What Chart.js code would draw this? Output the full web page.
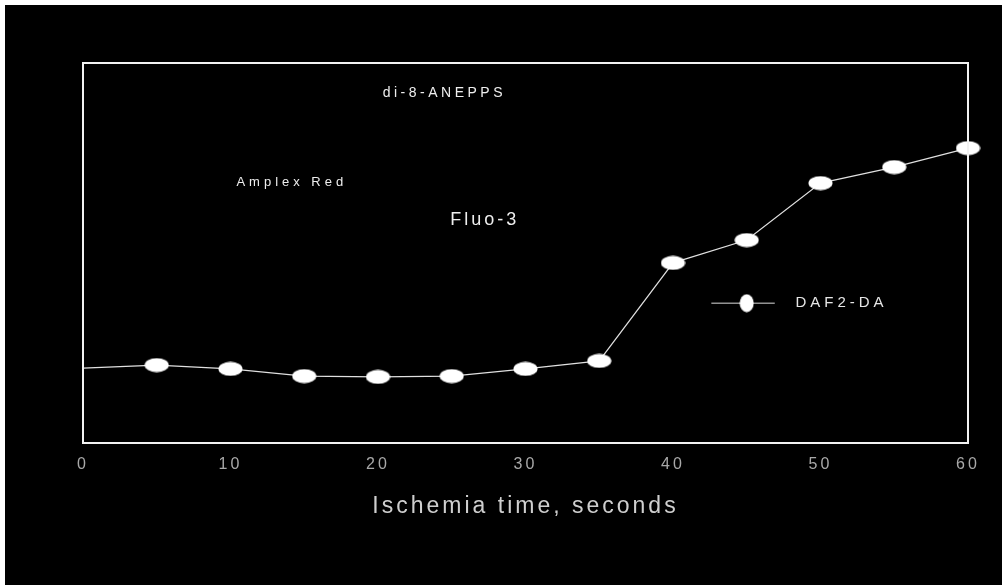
<!DOCTYPE html>
<html>
<head>
<meta charset="utf-8">
<script src="https://cdn.jsdelivr.net/npm/chart.js@4/dist/chart.umd.min.js"></script>
<style>
  html, body { margin: 0; padding: 0; background: #ffffff; }
  #wrap { position: relative; width: 1002px; height: 585px; }
  canvas { display: block; }
</style>
</head>
<body>
<div id="wrap"><canvas id="c" width="1002" height="585"></canvas></div>
<script>
// Ischemia time (s) and DAF2-DA signal (arbitrary units)
const times = [0, 5, 10, 15, 20, 25, 30, 35, 40, 45, 50, 55, 60];
const daf2da = [19.7, 20.5, 19.5, 17.6, 17.4, 17.6, 19.5, 21.6, 47.4, 53.4, 68.4, 72.6, 77.6];
const xTickValues = [0, 10, 20, 30, 40, 50, 60];
const seriesName = 'DAF2-DA';
const xTitle = 'Ischemia time, seconds';
// Probe names written inside the plot, with their anchor in axis units
const probeLabels = ['di-8-ANEPPS', 'Amplex Red', 'Fluo-3'];
const probeX = [24.5, 10.4, 24.9];
const probeY = [92.1, 68.7, 58.7];

// Flattened white ellipse used as the marker
function ellipseMarker(w, h) {
  const c = document.createElement('canvas');
  c.width = w; c.height = h;
  const g = c.getContext('2d');
  g.fillStyle = '#ffffff';
  g.beginPath();
  g.ellipse(w / 2, h / 2, w / 2 - 0.5, h / 2 - 0.5, 0, 0, Math.PI * 2);
  g.fill();
  return c;
}
const pointMarker = ellipseMarker(25, 15);
const legendMarker = ellipseMarker(15, 19);

const FONT = '"Liberation Sans", Arial, sans-serif';

const framePlugin = {
  id: 'frame',
  beforeDraw(chart) {
    const ctx = chart.ctx;
    ctx.save();
    ctx.fillStyle = '#ffffff';
    ctx.fillRect(0, 0, chart.width, chart.height);
    ctx.fillStyle = '#000000';
    ctx.fillRect(5, 5, chart.width - 5, chart.height - 5);
    ctx.restore();
    // spaced lettering for the axis text
    ctx.letterSpacing = '3px';
  },
  beforeDatasetsDraw(chart) {
    chart.ctx.letterSpacing = '0px';
  },
  afterDraw(chart) {
    const ctx = chart.ctx;
    const a = chart.chartArea;
    const xs = chart.scales.x, ys = chart.scales.y;
    ctx.save();
    // plot frame
    ctx.strokeStyle = '#f2f2f2';
    ctx.lineWidth = 2;
    ctx.strokeRect(a.left, a.top, a.right - a.left, a.bottom - a.top);

    // probe labels
    ctx.fillStyle = '#eeeeee';
    ctx.textBaseline = 'middle';
    const sizes = [14, 13, 18];
    const spacing = ['3.5px', '4px', '3px'];
    const align = ['center', 'left', 'left'];
    probeLabels.forEach((t, i) => {
      ctx.font = sizes[i] + 'px ' + FONT;
      ctx.letterSpacing = spacing[i];
      ctx.textAlign = align[i];
      ctx.fillText(t, xs.getPixelForValue(probeX[i]), ys.getPixelForValue(probeY[i]));
    });

    // legend entry
    const ly = ys.getPixelForValue(36.8);
    const lx0 = xs.getPixelForValue(42.6), lx1 = xs.getPixelForValue(46.9);
    const lm = xs.getPixelForValue(45.0);
    ctx.strokeStyle = '#dddddd';
    ctx.lineWidth = 1;
    ctx.beginPath();
    ctx.moveTo(lx0, ly); ctx.lineTo(lx1, ly);
    ctx.stroke();
    ctx.drawImage(legendMarker, lm - legendMarker.width / 2, ly - legendMarker.height / 2);
    ctx.font = '15px ' + FONT;
    ctx.letterSpacing = '4px';
    ctx.textAlign = 'left';
    ctx.fillStyle = '#e6e6e6';
    ctx.fillText(seriesName, xs.getPixelForValue(48.3), ly);
    ctx.restore();
    ctx.letterSpacing = '0px';
  }
};

new Chart(document.getElementById('c'), {
  type: 'line',
  data: {
    labels: times,
    datasets: [{
      label: seriesName,
      data: times.map((t, i) => ({ x: t, y: daf2da[i] })),
      borderColor: '#e0e0e0',
      borderWidth: 1.2,
      pointStyle: pointMarker,
      pointRadius: ctx => (ctx.dataIndex === 0 ? 0 : 8),
      pointHoverRadius: 8,
      tension: 0,
      clip: false
    }]
  },
  options: {
    responsive: false,
    animation: false,
    events: [],
    layout: { padding: { left: 83, right: 34, top: 63, bottom: 65 } },
    plugins: { legend: { display: false }, tooltip: { enabled: false } },
    scales: {
      x: {
        type: 'linear',
        min: 0, max: 60,
        afterBuildTicks: s => { s.ticks = xTickValues.map(v => ({ value: v })); },
        afterFit: s => { s.height = 77; },
        grid: { display: false, drawTicks: false },
        border: { display: false },
        ticks: {
          color: '#a8a8a8',
          padding: 12,
          font: { family: FONT, size: 16 },
          maxRotation: 0
        },
        title: {
          display: true,
          text: xTitle,
          color: '#cfcfcf',
          padding: { top: 0, bottom: 0 },
          font: { family: FONT, size: 23 }
        }
      },
      y: {
        display: false,
        min: 0, max: 100
      }
    }
  },
  plugins: [framePlugin]
});
</script>
</body>
</html>
